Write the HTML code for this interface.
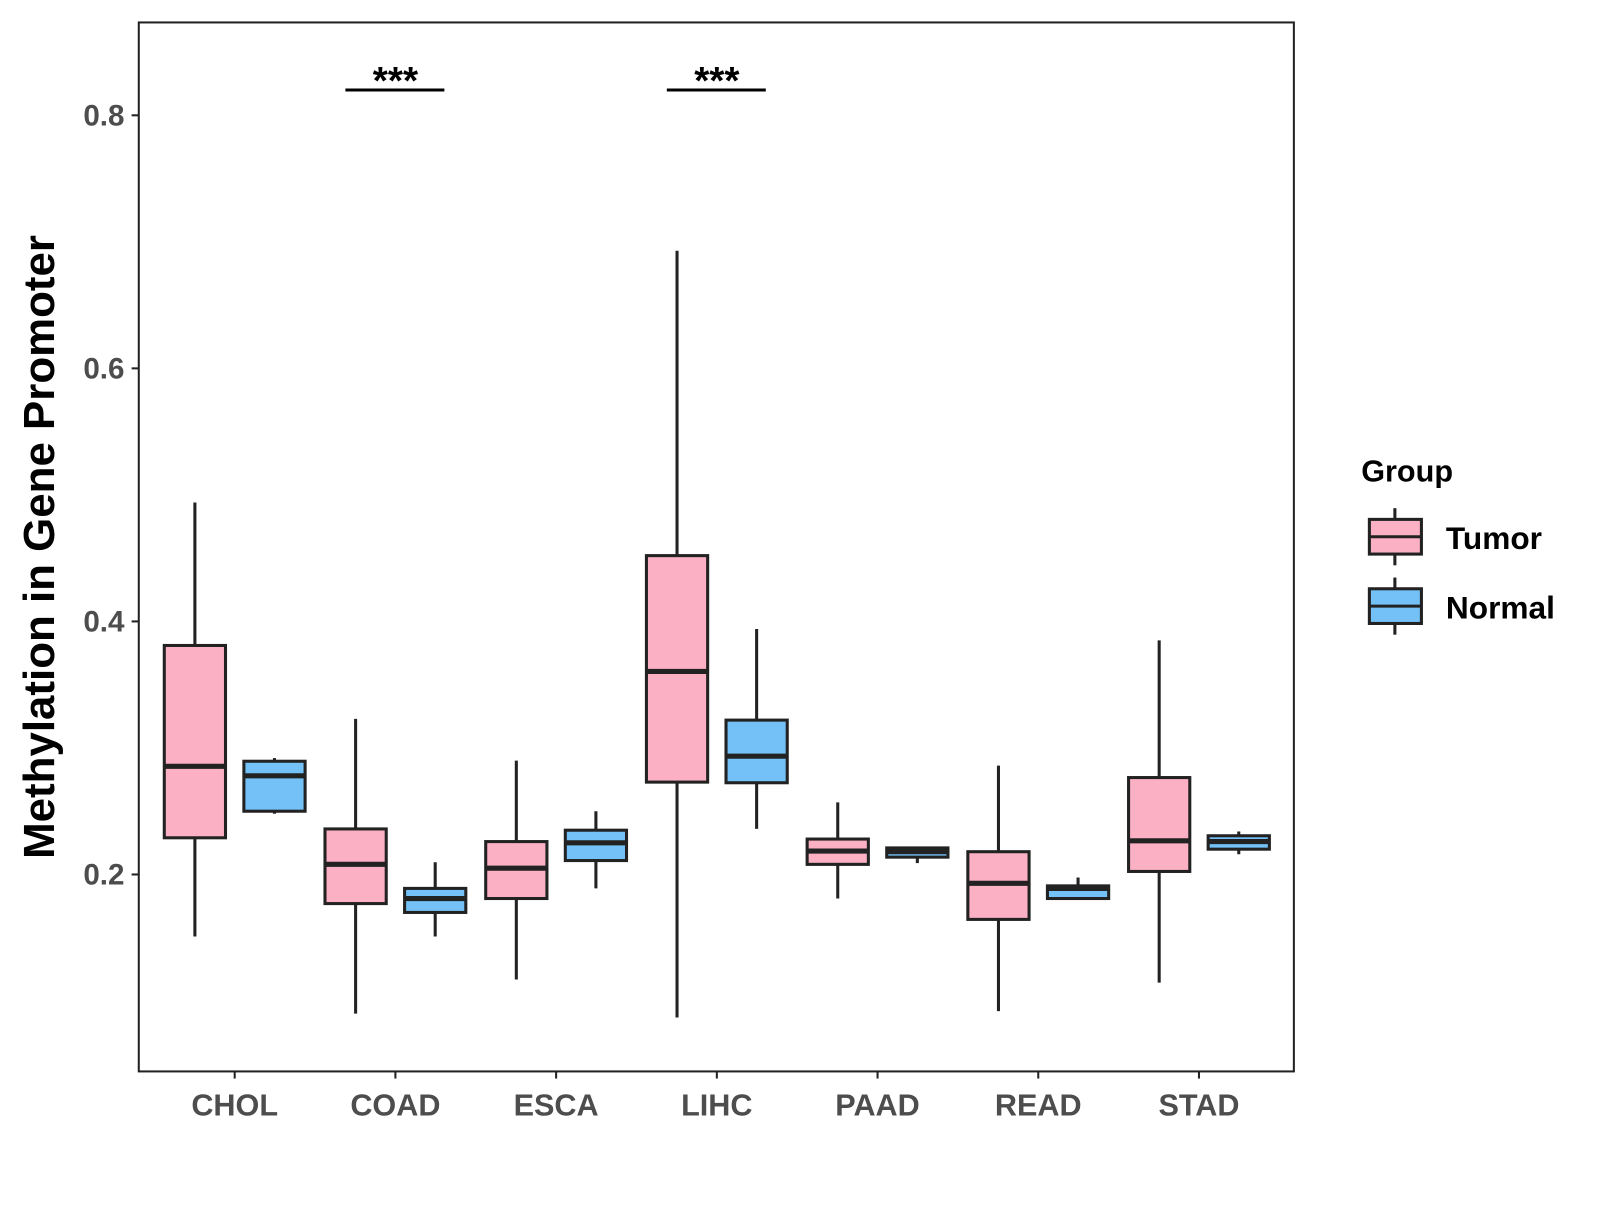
<!DOCTYPE html>
<html><head><meta charset="utf-8"><style>
body{margin:0;background:#fff}
svg text{font-family:"Liberation Sans",sans-serif;font-weight:bold}
</style></head><body>
<svg id="chart" width="1600" height="1200" xmlns="http://www.w3.org/2000/svg">
<rect width="1600" height="1200" fill="#fff"/>
<g transform="scale(1.0204)">
<g id="marks"></g>
<rect x="136" y="22" width="1132" height="1028" fill="none" stroke="#222" stroke-width="2"/>
<text transform="translate(53,536) rotate(-90)" text-anchor="middle" font-size="43" fill="#000">Methylation in Gene Promoter</text>
<g>
<text x="1334" y="472" font-size="30" fill="#000">Group</text>
<line x1="1367" y1="498" x2="1367" y2="554" stroke="#222" stroke-width="3"/>
<rect x="1342" y="509" width="51" height="34" fill="#FBB0C3" stroke="#222" stroke-width="3"/>
<line x1="1342" y1="526" x2="1393" y2="526" stroke="#222" stroke-width="3"/>
<text x="1417" y="538" font-size="31" fill="#000">Tumor</text>
<line x1="1367" y1="566" x2="1367" y2="622" stroke="#222" stroke-width="3"/>
<rect x="1342" y="577" width="51" height="34" fill="#74C1F7" stroke="#222" stroke-width="3"/>
<line x1="1342" y1="594" x2="1393" y2="594" stroke="#222" stroke-width="3"/>
<text x="1417" y="606" font-size="31" fill="#000">Normal</text>
</g>
</g>
</svg>
<script>
const categories=["CHOL","COAD","ESCA","LIHC","PAAD","READ","STAD"];
const tumorStats=[[0.151,0.229,0.2855,0.381,0.494],[0.090,0.177,0.208,0.236,0.323],[0.117,0.181,0.205,0.226,0.290],[0.087,0.273,0.3605,0.452,0.693],[0.181,0.208,0.2185,0.228,0.257],[0.092,0.1645,0.193,0.218,0.286],[0.1145,0.2024,0.2266,0.2766,0.385]];
const normalStats=[[0.248,0.25,0.278,0.2895,0.292],[0.151,0.170,0.181,0.189,0.2097],[0.189,0.211,0.225,0.235,0.250],[0.236,0.2725,0.2935,0.322,0.394],[0.209,0.2137,0.218,0.221,0.222],[0.18,0.181,0.189,0.191,0.1976],[0.216,0.220,0.226,0.2306,0.234]];
const yTicks=[0.2,0.4,0.6,0.8];
const sigPairs=[["COAD","***"],["LIHC","***"]];
const sigLevel=0.82;
const NS="http://www.w3.org/2000/svg";
const y=v=>857-(v-0.2)*1240;
const x=i=>230+i*157.5;
const g=document.getElementById('marks');
function mk(t,a,p){const e=document.createElementNS(NS,t);for(const k in a)e.setAttribute(k,a[k]);(p||g).appendChild(e);return e;}
yTicks.forEach(t=>{
 const l=mk('line',{x1:129,x2:136,y1:y(t),y2:y(t),stroke:'#222','stroke-width':2});
 
 
 const tx=mk('text',{x:122,y:y(t)+10,'text-anchor':'end','font-size':29,fill:'#4d4d4d'});
 
 
 tx.textContent=t.toFixed(1);
});
categories.forEach((c,i)=>{
 const l=mk('line',{x1:x(i),x2:x(i),y1:1050,y2:1057,stroke:'#222','stroke-width':2});
 
 
 const tx=mk('text',{x:x(i),y:1093,'text-anchor':'middle','font-size':30,fill:'#4d4d4d'});
 
 
 tx.textContent=c;
 [[tumorStats[i],-39,'#FBB0C3','tumor'],[normalStats[i],39,'#74C1F7','normal']].forEach(([s,off,col,nm])=>{
  const cx=x(i)+off;
  const bg=mk('g',{});
  
  
  mk('line',{x1:cx,x2:cx,y1:y(s[4]),y2:y(s[0]),stroke:'#222','stroke-width':3},bg);
  mk('rect',{x:cx-30,y:y(s[3]),width:60,height:Math.max(1,y(s[1])-y(s[3])),fill:col,stroke:'#222','stroke-width':3},bg);
  mk('line',{x1:cx-30,x2:cx+30,y1:y(s[2]),y2:y(s[2]),stroke:'#222','stroke-width':5},bg);
 });
});
sigPairs.forEach(([c,lab])=>{
 const i=categories.indexOf(c);
 const l=mk('line',{x1:x(i)-49,x2:x(i)+48,y1:y(sigLevel),y2:y(sigLevel),stroke:'#000','stroke-width':3});
 
 
 const t=mk('text',{x:x(i),y:y(sigLevel)+4,'text-anchor':'middle','font-size':38,fill:'#000'});
 
 
 t.textContent=lab;
});
</script>
</body></html>
